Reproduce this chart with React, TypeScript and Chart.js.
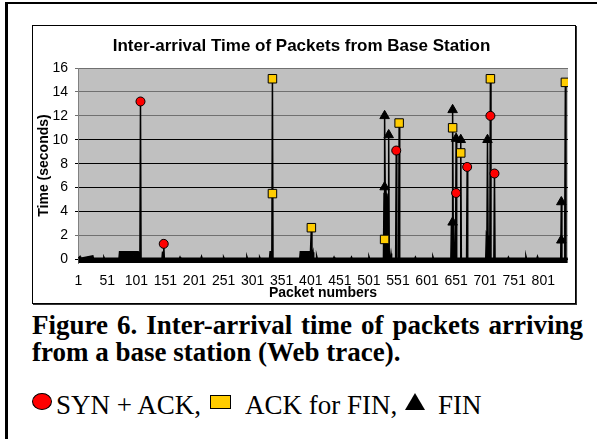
import React, { useEffect, useRef } from "react";
import { Chart, registerables } from "chart.js";

Chart.register(...registerables);

// Inter-arrival time trace (packet number, seconds)
const tracePackets = [
  1, 4, 5, 26, 27, 44, 45, 46, 71, 72, 96, 97, 98, 100, 101, 102, 104, 105, 107, 108, 109,
  145, 146, 147, 148, 149, 175, 176, 177, 212, 213, 214, 250, 251, 252, 290, 291, 292,
  312, 313, 314, 330, 331, 333, 334, 335, 336, 382, 383, 399, 400, 402, 403, 405, 406,
  410, 411, 412, 440, 441, 442, 470, 471, 472, 500, 501, 502, 526, 527, 528, 529, 530,
  531, 532, 533, 534, 535, 536, 538, 539, 540, 547, 548, 549, 552, 553, 554, 580, 581,
  582, 610, 611, 612, 642, 643, 644, 645, 646, 647, 648, 650, 651, 652, 658, 659, 660,
  669, 670, 671, 702, 703, 704, 705, 706, 707, 708, 709, 710, 711, 716, 717, 718, 740,
  741, 742, 770, 771, 772, 790, 791, 792, 831, 832, 833, 837, 838, 839, 840, 843,
];
const traceTimes = [
  0.1, 0.25, 0.1, 0.3, 0.1, 0.1, 0.2, 0.1, 0.1, 0.65, 0.65, 0.15, 0.65, 0.65, 0.15, 0.65, 0.65, 0.1, 0.1, 13.2, 0.1,
  0.1, 0.65, 0.1, 1.3, 0.1, 0.1, 0.2, 0.1, 0.1, 0.25, 0.1, 0.1, 0.2, 0.1, 0.1, 0.25, 0.1,
  0.1, 0.2, 0.1, 0.1, 0.65, 0.65, 0.1, 15.1, 0.1, 0.1, 0.65, 0.65, 0.1, 2.65, 0.1, 0.6, 0.1,
  0.1, 0.3, 0.1, 0.1, 0.2, 0.1, 0.1, 0.2, 0.1, 0.1, 0.25, 0.1, 0.1, 5.5, 12.0, 5.8, 6.0,
  5.2, 5.5, 4.8, 0.3, 10.4, 0.1, 0.1, 0.5, 0.1, 0.1, 9.1, 0.1, 0.1, 11.4, 0.1, 0.1, 0.2,
  0.1, 0.1, 0.25, 0.1, 0.1, 3.3, 3.0, 12.5, 3.2, 2.8, 0.1, 0.1, 10.1, 0.1, 0.1, 10.0, 0.1,
  0.1, 7.73, 0.1, 0.1, 2.0, 1.8, 10.0, 2.0, 1.5, 2.0, 1.2, 15.1, 0.1, 0.1, 7.18, 0.1, 0.1,
  0.2, 0.1, 0.1, 0.3, 0.1, 0.1, 0.25, 0.1, 0.1, 4.8, 0.1, 0.1, 3.5, 14.8, 0.1, 0.1,
];

// SYN + ACK packets
const synAckPackets = [108, 148, 548, 651, 670, 710, 717];
const synAckTimes = [13.2, 1.3, 9.1, 5.55, 7.73, 12.0, 7.18];

// ACK for FIN packets
const ackFinPackets = [335, 335, 402, 528, 553, 645, 659, 710, 839];
const ackFinTimes = [15.1, 5.5, 2.65, 1.67, 11.4, 11.0, 8.9, 15.1, 14.8];

// FIN packets
const finPackets = [528, 528, 535, 645, 645, 651, 659, 705, 832, 832];
const finTimes = [12.0, 6.05, 10.4, 12.5, 3.1, 10.1, 10.0, 10.0, 4.8, 1.6];

const xTickLabels = [1, 51, 101, 151, 201, 251, 301, 351, 401, 451, 501, 551, 601, 651, 701, 751, 801];
const yTickValues = [0, 2, 4, 6, 8, 10, 12, 14, 16];
const grayGridValues = [2, 12, 14, 16];

const ARIAL = "'Liberation Sans', Arial, sans-serif";
const TIMES = "'Liberation Serif', 'Times New Roman', serif";

const zip = (xs: number[], ys: number[]) => xs.map((x, i) => ({ x, y: ys[i] }));

const plotBg = {
  id: "plotBg",
  beforeDraw(chart: any) {
    const { ctx, chartArea } = chart;
    if (!chartArea) return;
    ctx.save();
    ctx.fillStyle = "#c0c0c0";
    ctx.fillRect(chartArea.left, chartArea.top, chartArea.right - chartArea.left, chartArea.bottom - chartArea.top);
    ctx.restore();
  },
};

function TimeChart() {
  const ref = useRef<HTMLCanvasElement | null>(null);
  useEffect(() => {
    if (!ref.current) return;
    const chart = new Chart(ref.current, {
      type: "scatter",
      data: {
        datasets: [
          {
            label: "SYN + ACK",
            data: zip(synAckPackets, synAckTimes),
            pointStyle: "circle",
            pointRadius: 4.5,
            backgroundColor: "#ff0000",
            borderColor: "#000",
            borderWidth: 1,
            order: 0,
          },
          {
            label: "ACK for FIN",
            data: zip(ackFinPackets, ackFinTimes),
            pointStyle: "rect",
            pointRadius: 6,
            backgroundColor: "#ffcc00",
            borderColor: "#000",
            borderWidth: 1,
            order: 1,
          },
          {
            label: "FIN",
            data: zip(finPackets, finTimes),
            pointStyle: "triangle",
            pointRadius: 5.5,
            backgroundColor: "#000",
            borderColor: "#000",
            borderWidth: 1,
            order: 2,
          },
          {
            type: "line",
            label: "Inter-arrival time",
            data: zip(tracePackets, traceTimes),
            borderColor: "#000",
            backgroundColor: "#000",
            borderWidth: 1.5,
            pointRadius: 0,
            tension: 0,
            fill: "start",
            order: 10,
          },
        ],
      },
      options: {
        responsive: false,
        animation: false,
        devicePixelRatio: 1,
        layout: { padding: { left: 0, right: 5, top: 0, bottom: 0 } },
        plugins: {
          legend: { display: false },
          tooltip: { enabled: false },
          title: {
            display: true,
            text: "Inter-arrival Time of Packets from Base Station",
            color: "#000",
            font: { family: ARIAL, size: 17, weight: "bold" },
            padding: { top: 9.8, bottom: 11.8 },
          },
        },
        scales: {
          x: {
            type: "linear",
            min: 0.5,
            max: 843.5,
            afterBuildTicks: (scale: any) => {
              scale.ticks = xTickLabels.map((v) => ({ value: v }));
            },
            afterFit: (scale: any) => {
              scale.height = 40;
            },
            grid: { display: false, drawTicks: false },
            border: { display: false },
            ticks: {
              autoSkip: false,
              maxRotation: 0,
              color: "#000",
              padding: 10,
              font: { family: ARIAL, size: 14 },
            },
            title: {
              display: true,
              text: "Packet numbers",
              color: "#000",
              font: { family: ARIAL, size: 14, weight: "bold" },
              padding: { top: 0, bottom: 1.6 },
            },
          },
          y: {
            min: -0.3,
            max: 16,
            afterBuildTicks: (scale: any) => {
              scale.ticks = yTickValues.map((v) => ({ value: v }));
            },
            afterFit: (scale: any) => {
              scale.width = 45;
            },
            grid: {
              color: (c: any) => (c.tick && grayGridValues.includes(c.tick.value) ? "#707070" : "#000"),
              lineWidth: 1,
              tickLength: 3,
              drawTicks: true,
            },
            border: { display: true, color: "#808080" },
            ticks: {
              color: "#000",
              padding: 7,
              font: { family: ARIAL, size: 14 },
            },
            title: {
              display: true,
              text: "Time (seconds)",
              color: "#000",
              font: { family: ARIAL, size: 14, weight: "bold" },
              padding: { top: 2.6, bottom: 0 },
            },
          },
        },
      },
      plugins: [plotBg],
    } as any);
    return () => chart.destroy();
  }, []);
  return <canvas ref={ref} width={542} height={277} style={{ display: "block", width: 542, height: 277 }} />;
}

export default function App() {
  const textBase: React.CSSProperties = {
    position: "absolute",
    fontFamily: TIMES,
    color: "#000",
    whiteSpace: "nowrap",
    fontSize: 27,
    lineHeight: "27px",
  };
  return (
    <div style={{ position: "fixed", left: 0, top: 0, width: 597, height: 439, background: "#fff", overflow: "hidden" }}>
      <div
        style={{
          position: "absolute",
          left: 5,
          top: 2,
          width: 620,
          height: 460,
          borderLeft: "3px solid #000",
          borderTop: "2px solid #000",
        }}
      />
      <div
        style={{
          position: "absolute",
          left: 32,
          top: 25,
          width: 542,
          height: 277,
          border: "1px solid #000",
          boxShadow: "1px 1px 0 #333",
          background: "#fff",
        }}
      >
        <TimeChart />
      </div>
      <div
        style={{
          position: "absolute",
          left: 32,
          top: 312,
          width: 551,
          fontFamily: TIMES,
          fontWeight: "bold",
          fontSize: 27,
          lineHeight: "27px",
          textAlign: "justify",
          textAlignLast: "justify",
          color: "#000",
        }}
      >
        Figure 6. Inter-arrival time of packets arriving
      </div>
      <div style={{ ...textBase, left: 32, top: 339, fontWeight: "bold" }}>from a base station (Web trace).</div>
      <div
        style={{
          position: "absolute",
          left: 32,
          top: 393,
          width: 18,
          height: 15,
          borderRadius: "50%",
          background: "#ff0000",
          border: "1px solid #000",
        }}
      />
      <div style={{ ...textBase, left: 56, top: 392 }}>SYN + ACK,</div>
      <div
        style={{
          position: "absolute",
          left: 210,
          top: 395,
          width: 19,
          height: 12,
          background: "#ffcc00",
          border: "1.5px solid #000",
        }}
      />
      <div style={{ ...textBase, left: 245, top: 392 }}>ACK for FIN,</div>
      <div
        style={{
          position: "absolute",
          left: 405,
          top: 393,
          width: 0,
          height: 0,
          borderLeft: "10px solid transparent",
          borderRight: "10px solid transparent",
          borderBottom: "17px solid #000",
        }}
      />
      <div style={{ ...textBase, left: 438, top: 392 }}>FIN</div>
    </div>
  );
}
